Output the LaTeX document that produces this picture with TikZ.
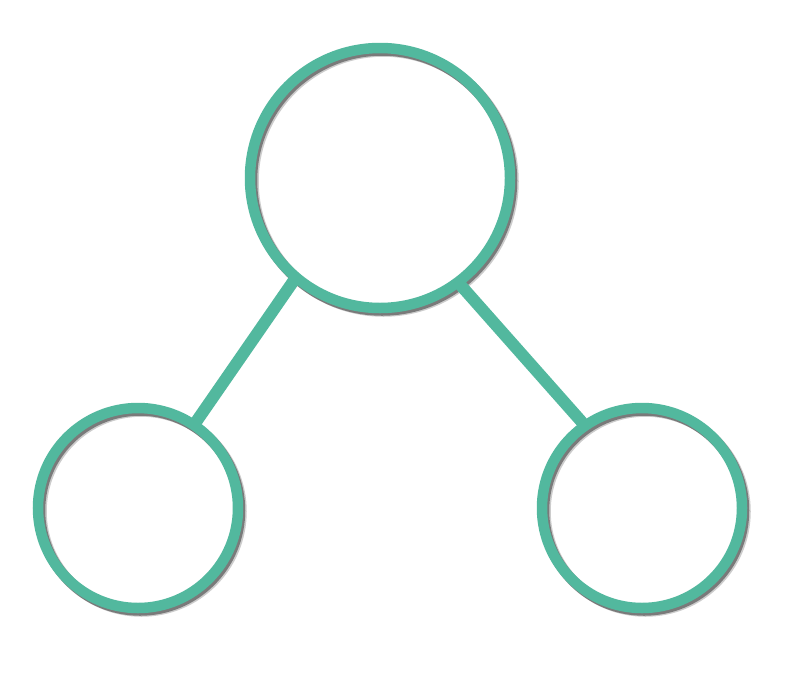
\documentclass[tikz,border=0pt]{standalone}
\usepackage{tikz}
\definecolor{teal}{RGB}{82,184,158}
\tikzset{
SHADOW/.style={preaction={draw=black,opacity=0.2,transform canvas={shift={(3.5pt,-3.5pt)}}},
  preaction={draw=black,opacity=0.4,transform canvas={shift={(2pt,-2.5pt)}}}},
RING/.style ={circle,draw=teal,line width=10.5pt,inner sep=0pt,minimum size=#1,SHADOW},
RING/.default = 200pt,
EDGE/.style ={draw=teal,line width=12pt,line cap=round,SHADOW},
}
\begin{document}
\begin{tikzpicture}[x=1pt,y=1pt]
	\useasboundingbox[fill=white] (0,0) rectangle (786,-672);
	\node[RING=260pt] (root) at (380,-178) {}; %top
	\node[RING] (left) at (138,-508) {};
	\node[RING] (right) at (642,-508) {};
	\path[EDGE] (root.230) -- (left.56);
	\path[EDGE] (root.307) -- (right.125);
\end{tikzpicture}
\end{document}
